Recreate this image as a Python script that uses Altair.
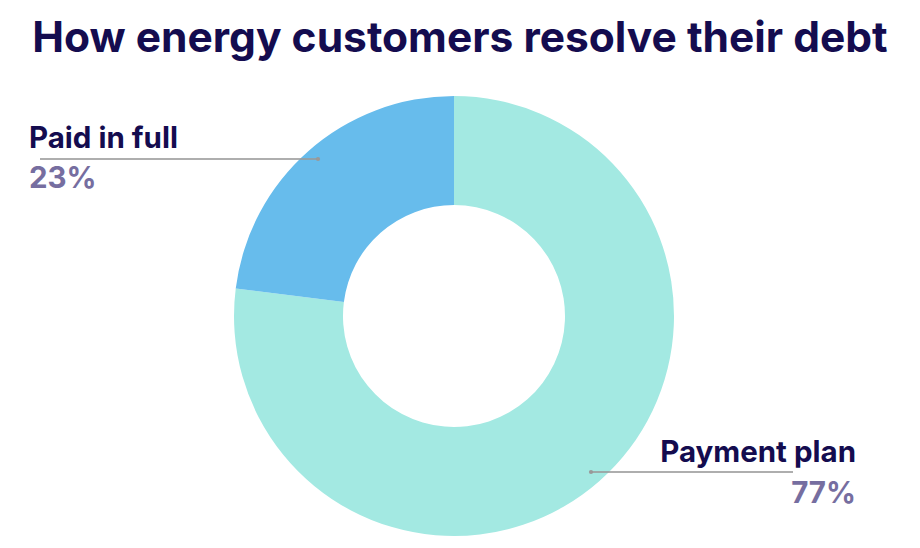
import altair as alt
import pandas as pd

categories = ["Payment plan", "Paid in full"]
values = [77, 23]
pct_labels = ["77%", "23%"]
colors = ["#A3E9E2", "#67BCEC"]
title_text = "How energy customers resolve their debt"

df = pd.DataFrame({"category": categories, "value": values, "order": [0, 1], "pct": pct_labels})

NAVY = "#140C4F"
PURPLE = "#766EA0"
FONT = "Inter"

cx, cy = 446, 308

donut = alt.Chart(df).mark_arc(outerRadius=220, innerRadius=111).encode(
    theta=alt.Theta("value:Q", stack=True),
    order=alt.Order("order:Q"),
    color=alt.Color("category:N", scale=alt.Scale(domain=categories, range=colors), legend=None),
    x=alt.value(cx),
    y=alt.value(cy),
)

base = alt.Chart(df)

title = base.transform_filter(alt.datum.order == 0).mark_text(
    text=title_text, font=FONT, fontSize=42.5, fontWeight="bold", color=NAVY,
    align="center", baseline="alphabetic"
).encode(x=alt.value(452), y=alt.value(44))

# Paid in full label
paid = base.transform_filter(alt.datum.category == "Paid in full")
paid_name = paid.mark_text(font=FONT, fontSize=29.5, fontWeight="bold", color=NAVY,
                           align="left", baseline="alphabetic").encode(
    text="category:N", x=alt.value(21), y=alt.value(140))
paid_pct = paid.mark_text(font=FONT, fontSize=29.5, fontWeight="bold", color=PURPLE,
                          align="left", baseline="alphabetic").encode(
    text="pct:N", x=alt.value(21), y=alt.value(180))
paid_line = paid.mark_rule(color="#9A9A9A", strokeWidth=2, opacity=0.8).encode(
    x=alt.value(32), x2=alt.value(310), y=alt.value(151))
paid_dot = paid.mark_point(filled=True, color="#999999", size=18, opacity=1).encode(
    x=alt.value(310), y=alt.value(151))

plan = base.transform_filter(alt.datum.category == "Payment plan")
plan_name = plan.mark_text(font=FONT, fontSize=29.5, fontWeight="bold", color=NAVY,
                           align="right", baseline="alphabetic").encode(
    text="category:N", x=alt.value(848), y=alt.value(454))
plan_pct = plan.mark_text(font=FONT, fontSize=29.5, fontWeight="bold", color=PURPLE,
                          align="right", baseline="alphabetic").encode(
    text="pct:N", x=alt.value(848), y=alt.value(495))
plan_line = plan.mark_rule(color="#9A9A9A", strokeWidth=2, opacity=0.8).encode(
    x=alt.value(583), x2=alt.value(785), y=alt.value(464))
plan_dot = plan.mark_point(filled=True, color="#999999", size=18, opacity=1).encode(
    x=alt.value(583), y=alt.value(464))

chart = alt.layer(
    donut, paid_line, paid_dot, plan_line, plan_dot,
    title, paid_name, paid_pct, plan_name, plan_pct
).properties(
    width=904, height=532, padding=0,
    autosize=alt.AutoSizeParams(type="none"),
    background="white",
).configure_view(stroke=None)

chart.save("out.html", embed_options={"renderer": "svg", "actions": False})
